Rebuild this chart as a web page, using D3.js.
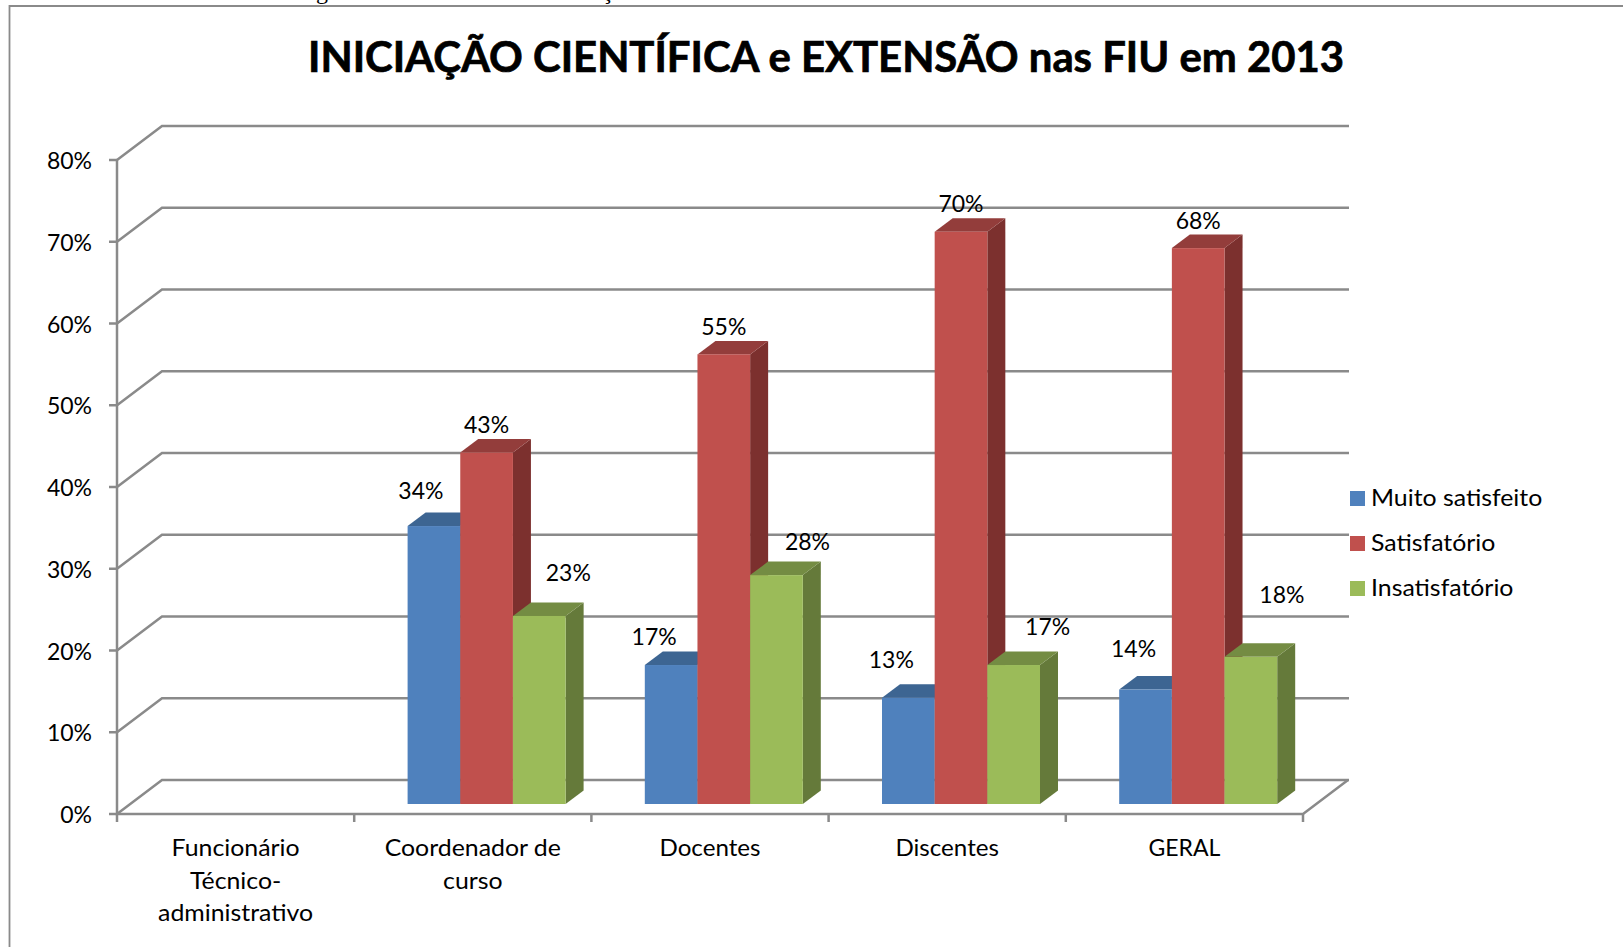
<!DOCTYPE html>
<html><head><meta charset="utf-8">
<script src="https://cdn.jsdelivr.net/npm/d3@7/dist/d3.min.js"></script>
<style>html,body{margin:0;padding:0;background:#fff;overflow:hidden}svg{display:block}text{fill:#000;font-family:Lato,Carlito,sans-serif}</style>
</head><body><svg id="c" width="1623" height="947"></svg>
<script>
const title = "INICIAÇÃO CIENTÍFICA e EXTENSÃO nas FIU em 2013";
const categories = ["Funcionário Técnico-administrativo","Coordenador de curso","Docentes","Discentes","GERAL"];
const categoryLines = [["Funcionário","Técnico-","administrativo"],["Coordenador de","curso"],["Docentes"],["Discentes"],["GERAL"]];
const seriesNames = ["Muito satisfeito","Satisfatório","Insatisfatório"];
const muitoSatisfeito = [null,34,17,13,14];
const satisfatorio = [null,43,55,70,68];
const insatisfatorio = [null,23,28,17,18];
const yTicks = [0,10,20,30,40,50,60,70,80];

// styling / layout (not data)
const colors = [["#4f81bd","#3d6592","#345680"],["#c0504d","#933d3b","#7c302e"],["#9bbb59","#748c43","#657a3a"]];
const labelDx = [[0,-13,-17,-17,-12],[0,0,0,0,0],[0,29,31,34,31]];
const labelDy = [[0,-27,-20,-29.5,-33],[0,-19.5,-19,-19.5,-19],[0,-35,-25,-30.5,-54]];
const categoryStretch = [1.08,1.08,1.05,1.05,1.0];
const series = [muitoSatisfeito,satisfatorio,insatisfatorio];
const gray = "#8a8a8a", FS = 23;
const depth = {x:45,y:-34}, barOff = {x:13.8,y:-10}, barDepth = {x:18,y:-13.5};

const svg = d3.select("#c");
const x = d3.scaleBand().domain(categories).range([117,1303]);
const xs = d3.scaleBand().domain(seriesNames).range([0,158]);
const y = d3.scaleLinear().domain([0,80]).range([814,160]);

// frame and clipped line of document text above the chart
svg.append("text").attr("x",316).attr("y",-1).style("font-family","Liberation Serif").attr("font-size",24).text("g");
svg.append("text").attr("x",602).attr("y",-1).style("font-family","Liberation Serif").attr("font-size",24).text("ç");
svg.append("path").attr("d","M9.5,947V6H1623").attr("fill","none").attr("stroke",gray).attr("stroke-width",1.8);

svg.append("text").attr("x",826).attr("y",72).attr("text-anchor","middle").attr("font-size",42).attr("font-weight",700)
  .style("stroke","#000").style("stroke-width",0.7)
  .attr("textLength",1036).attr("lengthAdjust","spacingAndGlyphs").text(title);

// grid: back wall + side wall
const grid = svg.append("g").attr("fill","none").attr("stroke",gray).attr("stroke-width",2.5);
yTicks.forEach(t=>{
  const p = y(t);
  grid.append("path").attr("d",`M117,${p}L${117+depth.x},${p+depth.y}H${1304+depth.x}`);
  grid.append("path").attr("d",`M109,${p}H117`);
});
grid.append("path").attr("d",`M117,${y(80)}V${y(0)}H1303L${1303+depth.x},${y(0)+depth.y}`);
x.domain().concat(["end"]).forEach((c,i)=>{
  const px = 117 + i*x.bandwidth();
  grid.append("path").attr("d",`M${px},${y(0)}V${y(0)+8}`);
});

// y tick labels
svg.append("g").selectAll("text").data(yTicks).join("text")
  .attr("x",92).attr("y",d=>y(d)+9).attr("text-anchor","end").attr("font-size",FS).text(d=>d+"%");

// 3D bars
categories.forEach((c,ci)=>{
  const g = svg.append("g");
  seriesNames.forEach((s,si)=>{
    const v = series[si][ci];
    if(v==null) return;
    const x0 = x(c)+(x.bandwidth()-158)/2+xs(s)+barOff.x, x1 = x0+xs.bandwidth();
    const t = y(v)+barOff.y, b = y(0)+barOff.y;
    const dx = barDepth.x, dy = barDepth.y;
    g.append("path").attr("fill",colors[si][2]).attr("d",`M${x1},${t}L${x1+dx},${t+dy}V${b+dy}L${x1},${b}Z`);
    g.append("path").attr("fill",colors[si][1]).attr("d",`M${x0},${t}L${x0+dx},${t+dy}H${x1+dx}L${x1},${t}Z`);
    g.append("rect").attr("fill",colors[si][0]).attr("x",x0).attr("y",t).attr("width",x1-x0).attr("height",b-t);
  });
});
// data labels
categories.forEach((c,ci)=>{
  seriesNames.forEach((s,si)=>{
    const v = series[si][ci];
    if(v==null) return;
    const cx = x(c)+(x.bandwidth()-158)/2+xs(s)+barOff.x+xs.bandwidth()/2;
    svg.append("text").attr("x",cx+labelDx[si][ci]).attr("y",y(v)+barOff.y+labelDy[si][ci])
      .attr("text-anchor","middle").attr("font-size",FS).text(v+"%");
  });
});

// category labels, stretched to the widths of the reference's wider face
categories.forEach((c,ci)=>{
  categoryLines[ci].forEach((l,li)=>{
    const t = svg.append("text").attr("x",x(c)+x.bandwidth()/2).attr("y",856+li*32.5)
      .attr("text-anchor","middle").attr("font-size",FS).text(l);
    t.attr("textLength",t.node().getComputedTextLength()*categoryStretch[ci]).attr("lengthAdjust","spacingAndGlyphs");
  });
});

// legend
seriesNames.forEach((s,i)=>{
  svg.append("rect").attr("x",1350).attr("y",491+i*45).attr("width",15).attr("height",15).attr("fill",colors[i][0]);
  const t = svg.append("text").attr("x",1371).attr("y",506+i*45).attr("font-size",FS).text(s);
  t.attr("textLength",t.node().getComputedTextLength()*1.08).attr("lengthAdjust","spacingAndGlyphs");
});
</script></body></html>
